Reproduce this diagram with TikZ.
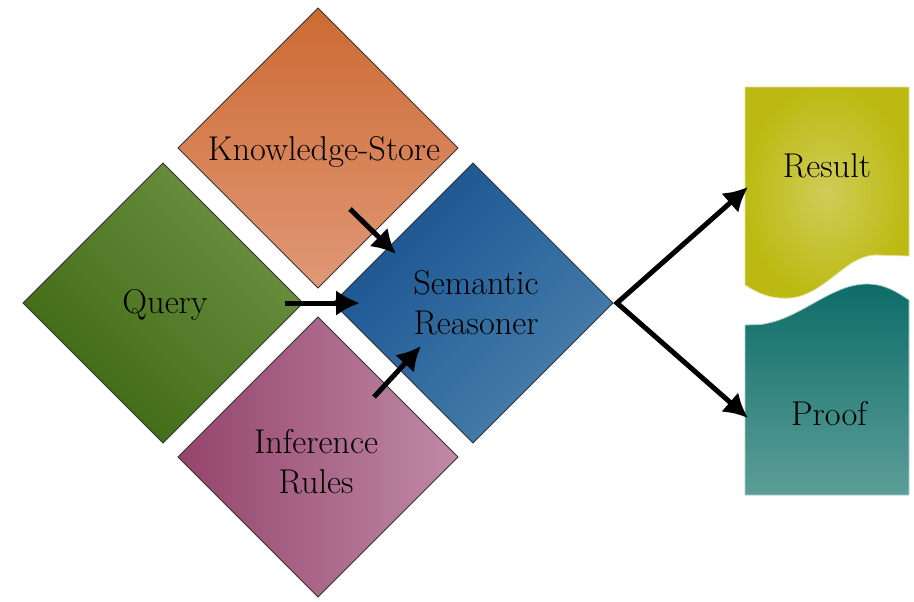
\documentclass[tikz,border=0pt]{standalone}
\usetikzlibrary{shapes.geometric,arrows.meta}

\definecolor{ksTop}{RGB}{204,106,51}
\definecolor{ksBot}{RGB}{224,152,118}
\definecolor{qLight}{RGB}{108,145,66}
\definecolor{qDark}{RGB}{62,104,18}
\definecolor{srDark}{RGB}{24,82,144}
\definecolor{srLight}{RGB}{72,128,172}
\definecolor{irDark}{RGB}{148,68,108}
\definecolor{irLight}{RGB}{192,138,166}
\definecolor{resEdge}{RGB}{188,186,18}
\definecolor{resMid}{RGB}{208,204,88}
\definecolor{prTop}{RGB}{14,108,104}
\definecolor{prBot}{RGB}{92,158,152}

\tikzset{
  block/.style={diamond, draw=black!80, line width=0.5pt,
    minimum width=140pt, minimum height=140pt, inner sep=0pt, outer sep=0pt},
  txt/.style={font=\fontsize{17.2}{20}\selectfont, align=center,
    text=black, inner sep=0pt},
  arr/.style={line width=2.5pt, line join=miter,
    -{Latex[length=12pt,width=13pt]}},
  twoarr/.style={line width=2.5pt, line join=miter,
    {Latex[length=12pt,width=13pt]}-{Latex[length=12pt,width=13pt]}},
}

\begin{document}
\begin{tikzpicture}[x=0.5pt, y=-0.5pt]
  \useasboundingbox (0,0) rectangle (914,601);

  % the four inputs and the reasoner
  \node[block, top color=ksTop, bottom color=ksBot] (ks) at (318,148) {};
  \node[block, top color=qLight, bottom color=qDark, shading angle=-45] (qu) at (163,303) {};
  \node[block, top color=srDark, bottom color=srLight, shading angle=45] (sr) at (473,303) {};
  \node[block, left color=irDark, right color=irLight] (ir) at (318,457) {};

  % output sheets
  \shade[inner color=resMid, outer color=resEdge, draw=resMid!60!white, line width=0.4pt]
    (745,87) -- (909,87) -- (909,256) -- (875,255)
    .. controls (845,256) and (825,295) .. (790,298)
    .. controls (775,299) and (762,296) .. (745,285) -- cycle;
  \shade[top color=prTop, bottom color=prBot, draw=prBot!50!white, line width=0.4pt]
    (745,325) -- (760,324.5)
    .. controls (800,320) and (830,284) .. (867,284)
    .. controls (885,284) and (897,292) .. (909,300)
    -- (909,495) -- (745,495) -- cycle;

  % labels
  \node[txt] (ksT) at (324,152) {Knowledge-Store};
  \node[txt] (quT) at (165,305) {Query};
  \node[txt] (srT) at (476,303) {Semantic\\Reasoner};
  \node[txt] (irT) at (316,462) {Inference\\Rules};
  \node[txt] (reT) at (827,166) {Result};
  \node[txt] (prT) at (829,414) {Proof};

  % arrow end points
  \coordinate (ka) at (350,209);
  \coordinate (kb) at (396,254);
  \coordinate (qa) at (285,303);
  \coordinate (qb) at (360,303);
  \coordinate (ia) at (374,397);
  \coordinate (ib) at (421,346);
  \coordinate (fork) at (617,303);
  \coordinate (toRes) at (748,187);
  \coordinate (toPr) at (748,418);

  \draw[arr] (ka) -- (kb);
  \draw[arr] (qa) -- (qb);
  \draw[arr] (ia) -- (ib);
  \draw[twoarr] (toRes) -- (fork) -- (toPr);
\end{tikzpicture}
\end{document}
